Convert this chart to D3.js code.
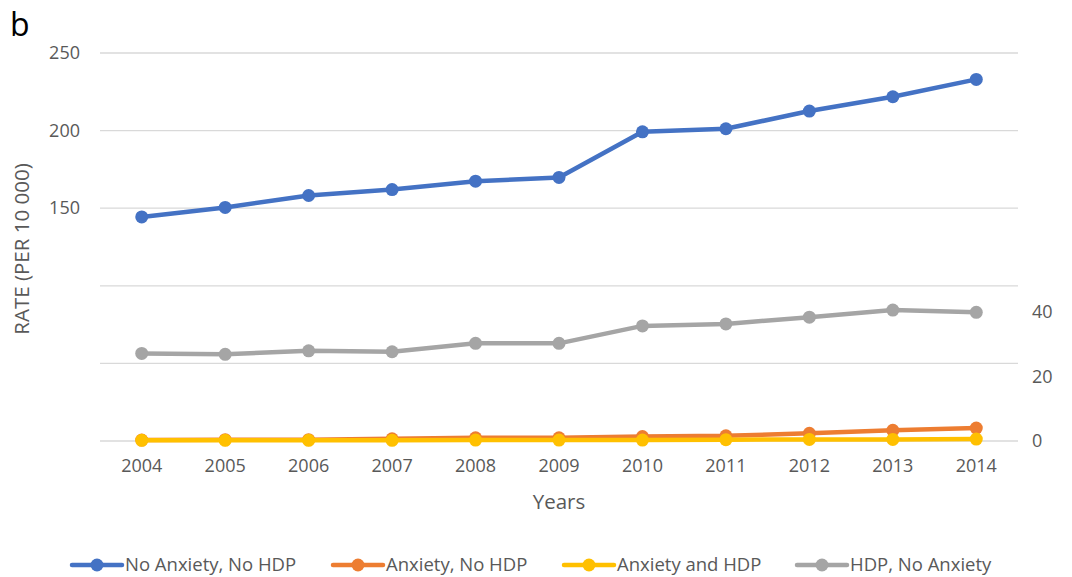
<!DOCTYPE html>
<html>
<head>
<meta charset="utf-8">
<script src="https://cdn.jsdelivr.net/npm/d3@7"></script>
<style>
  html, body { margin: 0; padding: 0; background: #fff; }
  svg { display: block; font-family: "Open Sans", sans-serif; }
</style>
</head>
<body>
<svg id="chart" width="1072" height="577"></svg>
<script>
// Years on the x axis
const years = ["2004","2005","2006","2007","2008","2009","2010","2011","2012","2013","2014"];

// Rates per 10 000 births
const noAnxietyNoHDP = [144.4, 150.5, 158.2, 162.0, 167.4, 169.8, 199.2, 201.2, 212.6, 221.8, 233.0];
const anxietyNoHDP   = [0.3, 0.4, 0.4, 0.7, 1.0, 1.0, 1.4, 1.6, 2.4, 3.3, 4.0];
const anxietyAndHDP  = [0.2, 0.2, 0.2, 0.2, 0.3, 0.3, 0.3, 0.4, 0.5, 0.5, 0.6];
const hdpNoAnxiety   = [27.1, 26.8, 27.9, 27.6, 30.2, 30.2, 35.6, 36.2, 38.3, 40.5, 39.8];

// Axis tick labels
const leftTicks = [150, 200, 250];
const rightTicks = [0, 20, 40];
const gridValues = [0, 50, 100, 150, 200, 250];

const series = [
  { name: "No Anxiety, No HDP", values: noAnxietyNoHDP, color: "#4472C4", axis: "left" },
  { name: "Anxiety, No HDP",    values: anxietyNoHDP,   color: "#ED7D31", axis: "right" },
  { name: "Anxiety and HDP",    values: anxietyAndHDP,  color: "#FFC000", axis: "right" },
  { name: "HDP, No Anxiety",    values: hdpNoAnxiety,   color: "#A5A5A5", axis: "right" }
];

const svg = d3.select("#chart");
const plot = { left: 100, right: 1018, top: 53, bottom: 441 };
const textColor = "#595959";
const tickFont = 18;

const x = d3.scaleBand().domain(years).range([plot.left, plot.right]);
const yLeft = d3.scaleLinear().domain([0, 250]).range([plot.bottom, plot.top]);
const yRight = d3.scaleLinear().domain([0, 120]).range([plot.bottom, plot.top]);

// Gridlines
svg.append("g")
  .selectAll("line")
  .data(gridValues)
  .join("line")
  .attr("x1", plot.left).attr("x2", plot.right)
  .attr("y1", d => yLeft(d)).attr("y2", d => yLeft(d))
  .attr("stroke", "#d9d9d9").attr("stroke-width", 1.3);

// Left axis labels (upper panel)
const leftAxis = svg.append("g")
  .attr("transform", `translate(${plot.left - 20},0)`)
  .call(d3.axisLeft(yLeft).tickValues(leftTicks).tickSize(0).tickPadding(0));
leftAxis.select(".domain").remove();
leftAxis.selectAll("text")
  .attr("fill", textColor).attr("font-size", tickFont).attr("font-family", "'Open Sans', sans-serif");

// Right axis labels (lower panel)
const rightAxis = svg.append("g")
  .attr("transform", `translate(${plot.right + 14},0)`)
  .call(d3.axisRight(yRight).tickValues(rightTicks).tickSize(0).tickPadding(0));
rightAxis.select(".domain").remove();
rightAxis.selectAll("text")
  .attr("fill", textColor).attr("font-size", tickFont).attr("font-family", "'Open Sans', sans-serif");

// X axis labels
const xAxis = svg.append("g")
  .attr("transform", `translate(0,${plot.bottom + 18})`)
  .call(d3.axisBottom(x).tickSize(0).tickPadding(0));
xAxis.select(".domain").remove();
xAxis.selectAll("text")
  .attr("fill", textColor).attr("font-size", tickFont).attr("font-family", "'Open Sans', sans-serif");

// Lines and markers
const cx = d => x(d) + x.bandwidth() / 2;
series.forEach(s => {
  const y = s.axis === "left" ? yLeft : yRight;
  const pts = years.map((yr, i) => ({ yr, v: s.values[i] }));
  const line = d3.line().x(d => cx(d.yr)).y(d => y(d.v));
  const g = svg.append("g");
  g.append("path")
    .datum(pts)
    .attr("d", line)
    .attr("fill", "none")
    .attr("stroke", s.color)
    .attr("stroke-width", 4.5)
    .attr("stroke-linejoin", "round")
    .attr("stroke-linecap", "round");
  g.selectAll("circle")
    .data(pts)
    .join("circle")
    .attr("cx", d => cx(d.yr))
    .attr("cy", d => y(d.v))
    .attr("r", 6.5)
    .attr("fill", s.color);
});

// Axis titles
svg.append("text")
  .attr("transform", `translate(29,${(plot.top + plot.bottom) / 2 + 2}) rotate(-90)`)
  .attr("text-anchor", "middle")
  .attr("fill", textColor)
  .attr("font-size", 20.5)
  .text("RATE (PER 10 000)");

svg.append("text")
  .attr("x", (plot.left + plot.right) / 2)
  .attr("y", 509)
  .attr("text-anchor", "middle")
  .attr("fill", textColor)
  .attr("font-size", 20.5)
  .text("Years");

// Panel letter
svg.append("text")
  .attr("x", 10).attr("y", 36)
  .attr("fill", "#000")
  .attr("font-size", 32)
  .text("b");

// Legend
const legendX = [72, 333, 564, 797];
const legendY = 565;
const lg = svg.append("g")
  .selectAll("g")
  .data(series)
  .join("g")
  .attr("transform", (d, i) => `translate(${legendX[i]},${legendY})`);
lg.append("line")
  .attr("x1", 0).attr("x2", 50)
  .attr("stroke", d => d.color).attr("stroke-width", 4.5).attr("stroke-linecap", "round");
lg.append("circle")
  .attr("cx", 25).attr("r", 6.5).attr("fill", d => d.color);
lg.append("text")
  .attr("x", 53).attr("dy", "0.35em")
  .attr("fill", textColor)
  .attr("font-size", 18.5)
  .text(d => d.name);
</script>
</body>
</html>
